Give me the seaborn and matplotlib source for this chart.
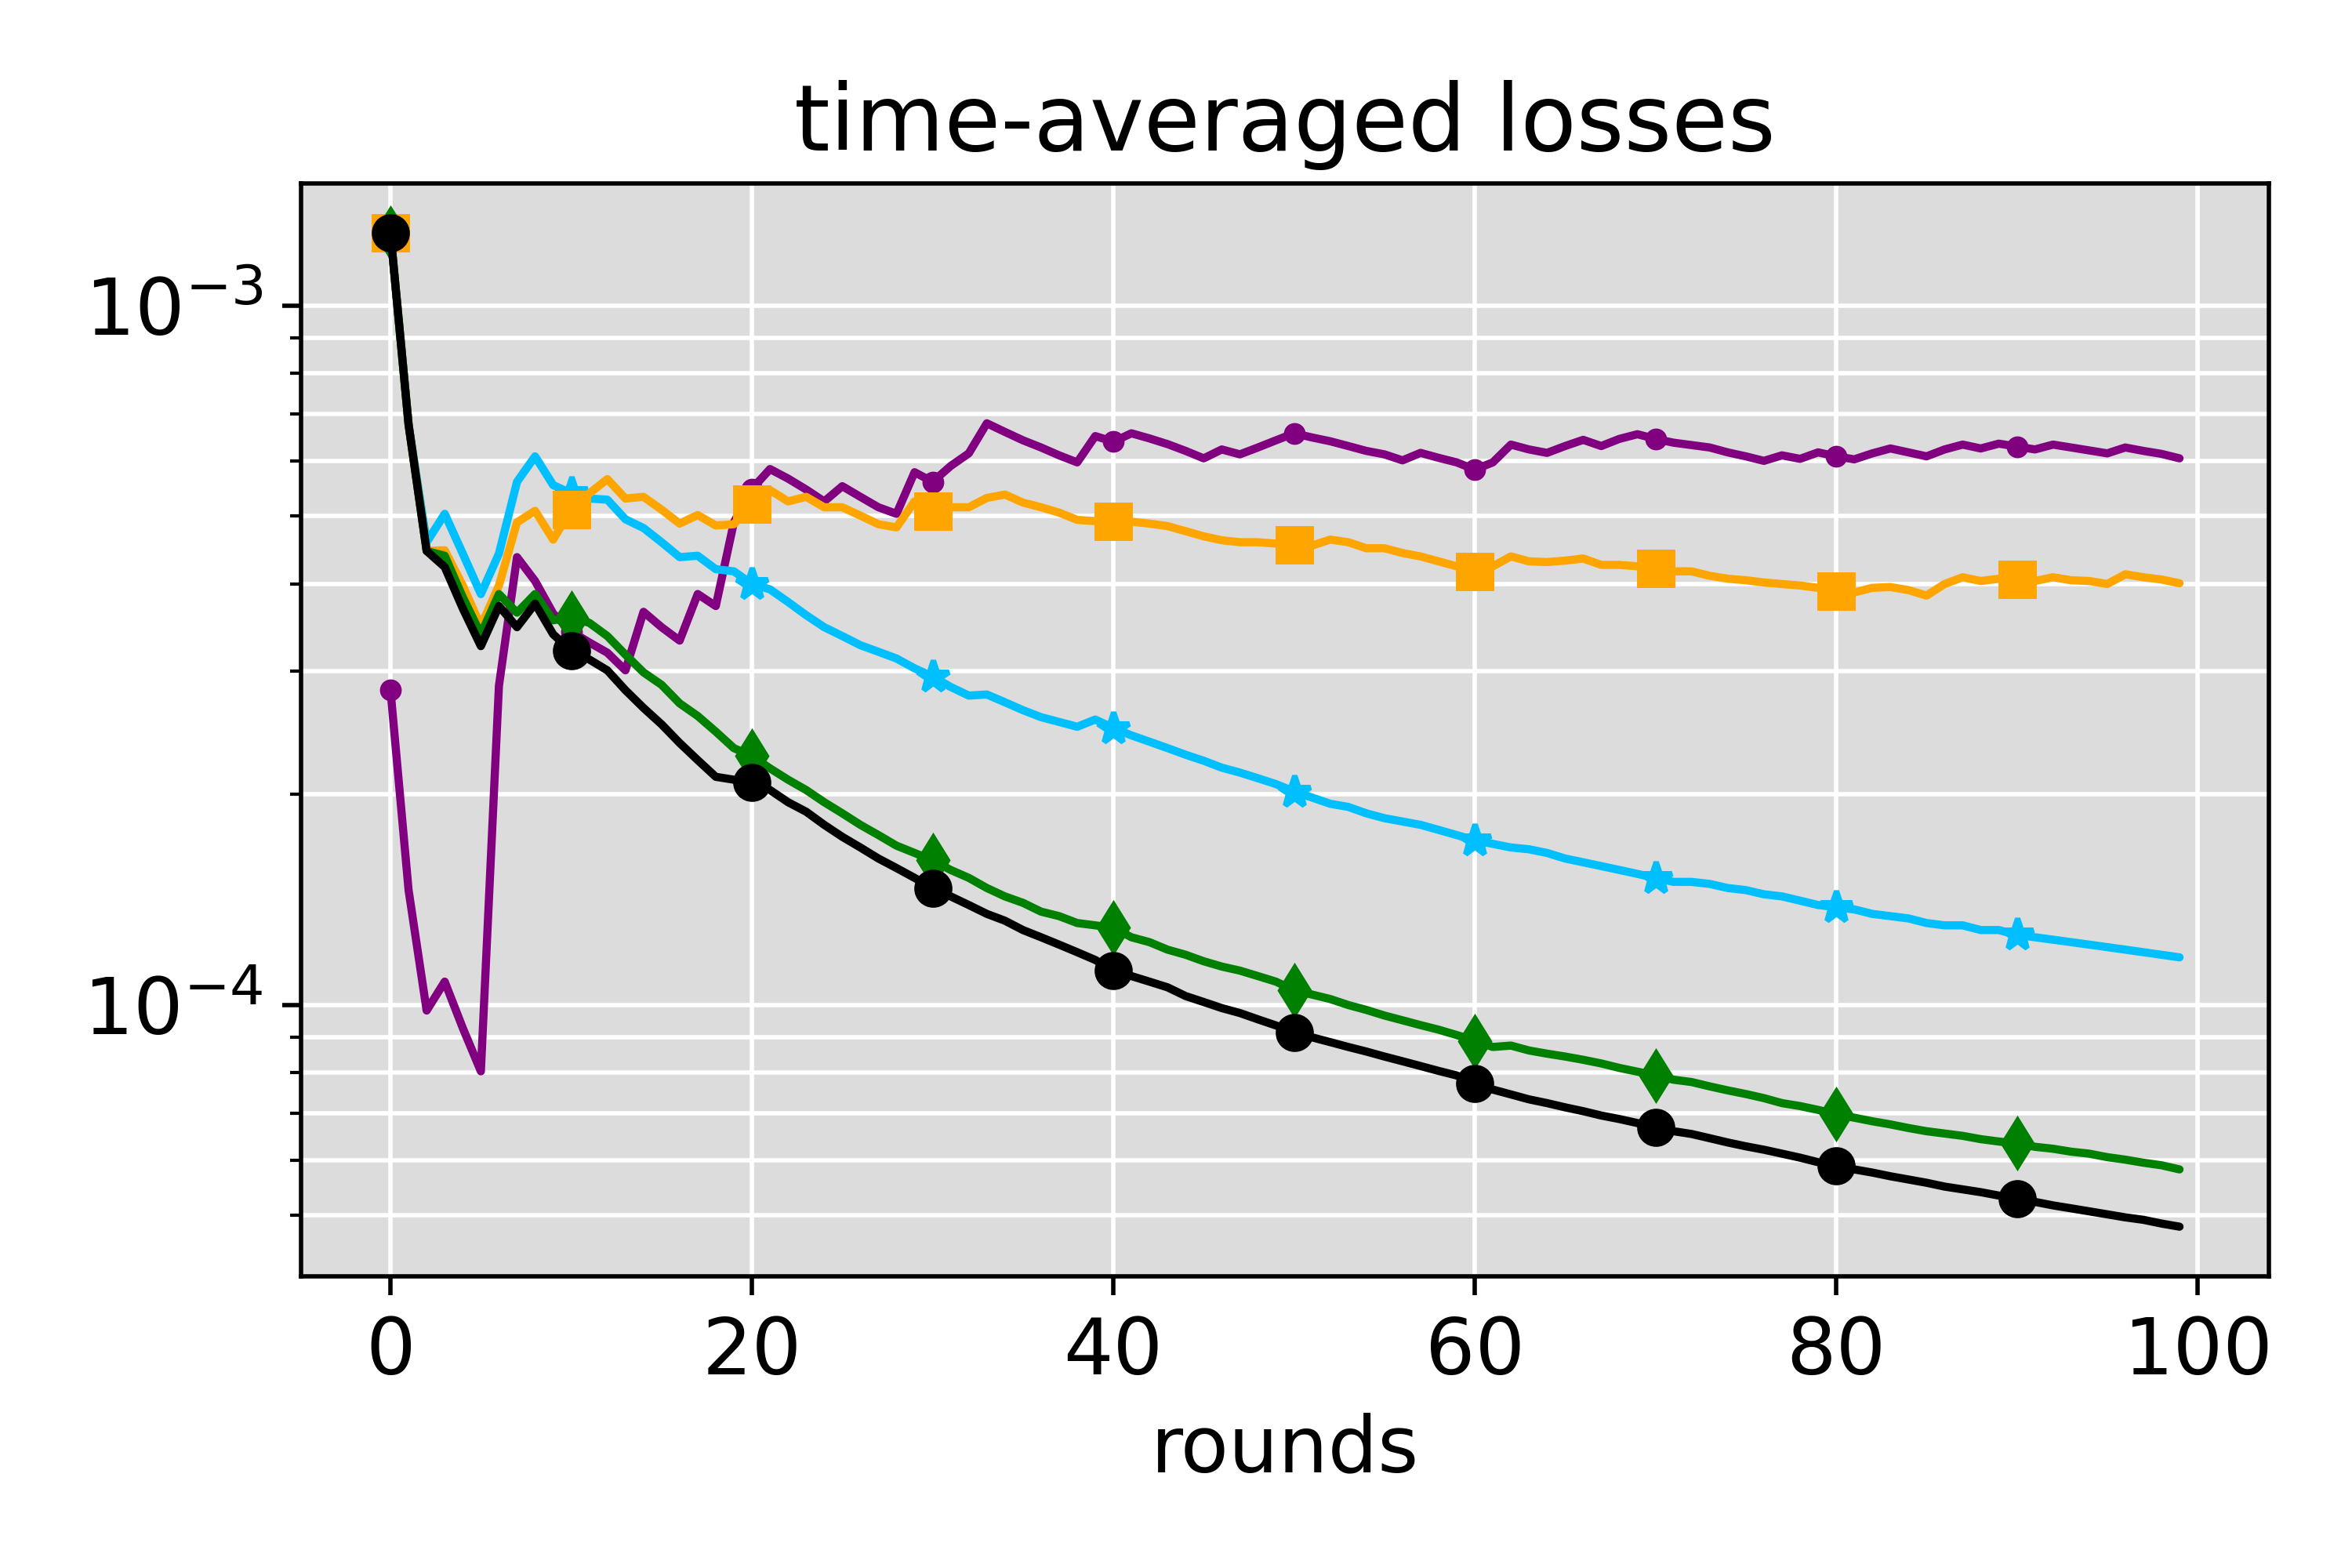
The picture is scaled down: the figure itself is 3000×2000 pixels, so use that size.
import numpy as np
import matplotlib
matplotlib.use("Agg")
import matplotlib.pyplot as plt
from matplotlib.ticker import NullFormatter
import seaborn as sns

# values (log scale), one per round
rounds = np.arange(100)

loss_purple = [
    2.82e-4, 1.46e-4, 9.82e-5, 1.08e-4, 9.27e-5, 8.04e-5, 2.86e-4, 4.37e-4, 4.04e-4, 3.63e-4,
    3.42e-4, 3.30e-4, 3.19e-4, 3.01e-4, 3.65e-4, 3.47e-4, 3.32e-4, 3.87e-4, 3.72e-4, 4.90e-4,
    5.47e-4, 5.84e-4, 5.66e-4, 5.46e-4, 5.25e-4, 5.52e-4, 5.33e-4, 5.15e-4, 5.04e-4, 5.78e-4,
    5.60e-4, 5.90e-4, 6.15e-4, 6.79e-4, 6.60e-4, 6.42e-4, 6.27e-4, 6.11e-4, 5.97e-4, 6.51e-4,
    6.39e-4, 6.57e-4, 6.46e-4, 6.34e-4, 6.20e-4, 6.05e-4, 6.23e-4, 6.13e-4, 6.27e-4, 6.42e-4,
    6.57e-4, 6.48e-4, 6.40e-4, 6.30e-4, 6.20e-4, 6.13e-4, 6.01e-4, 6.16e-4, 6.06e-4, 5.97e-4,
    5.83e-4, 5.97e-4, 6.33e-4, 6.23e-4, 6.16e-4, 6.30e-4, 6.43e-4, 6.30e-4, 6.45e-4, 6.55e-4,
    6.45e-4, 6.37e-4, 6.32e-4, 6.27e-4, 6.17e-4, 6.09e-4, 6.00e-4, 6.11e-4, 6.04e-4, 6.17e-4,
    6.09e-4, 6.03e-4, 6.15e-4, 6.25e-4, 6.17e-4, 6.09e-4, 6.23e-4, 6.33e-4, 6.25e-4, 6.35e-4,
    6.29e-4, 6.23e-4, 6.33e-4, 6.27e-4, 6.21e-4, 6.15e-4, 6.27e-4, 6.20e-4, 6.14e-4, 6.05e-4,
]

loss_blue = [
    1.27e-3, 6.76e-4, 4.59e-4, 5.04e-4, 4.42e-4, 3.87e-4, 4.42e-4, 5.60e-4, 6.09e-4, 5.54e-4,
    5.39e-4, 5.30e-4, 5.28e-4, 4.95e-4, 4.81e-4, 4.59e-4, 4.37e-4, 4.39e-4, 4.20e-4, 4.17e-4,
    4.00e-4, 3.93e-4, 3.77e-4, 3.61e-4, 3.47e-4, 3.37e-4, 3.27e-4, 3.20e-4, 3.13e-4, 3.03e-4,
    2.95e-4, 2.85e-4, 2.77e-4, 2.78e-4, 2.71e-4, 2.64e-4, 2.58e-4, 2.54e-4, 2.50e-4, 2.56e-4,
    2.49e-4, 2.43e-4, 2.38e-4, 2.33e-4, 2.28e-4, 2.235e-4, 2.185e-4, 2.15e-4, 2.11e-4, 2.07e-4,
    2.02e-4, 1.98e-4, 1.94e-4, 1.92e-4, 1.88e-4, 1.85e-4, 1.83e-4, 1.81e-4, 1.78e-4, 1.75e-4,
    1.72e-4, 1.70e-4, 1.68e-4, 1.67e-4, 1.65e-4, 1.62e-4, 1.60e-4, 1.58e-4, 1.56e-4, 1.54e-4,
    1.52e-4, 1.50e-4, 1.50e-4, 1.49e-4, 1.47e-4, 1.46e-4, 1.44e-4, 1.43e-4, 1.41e-4, 1.39e-4,
    1.38e-4, 1.37e-4, 1.35e-4, 1.34e-4, 1.33e-4, 1.31e-4, 1.30e-4, 1.30e-4, 1.28e-4, 1.28e-4,
    1.26e-4, 1.25e-4, 1.24e-4, 1.23e-4, 1.22e-4, 1.21e-4, 1.20e-4, 1.19e-4, 1.18e-4, 1.17e-4,
]

loss_orange = [
    1.27e-3, 6.76e-4, 4.46e-4, 4.47e-4, 3.98e-4, 3.48e-4, 3.98e-4, 4.90e-4, 5.09e-4, 4.63e-4,
    5.11e-4, 5.39e-4, 5.65e-4, 5.30e-4, 5.33e-4, 5.11e-4, 4.88e-4, 5.02e-4, 4.85e-4, 4.87e-4,
    5.20e-4, 5.45e-4, 5.25e-4, 5.33e-4, 5.15e-4, 5.15e-4, 5.01e-4, 4.87e-4, 4.82e-4, 5.25e-4,
    5.08e-4, 5.15e-4, 5.15e-4, 5.31e-4, 5.37e-4, 5.23e-4, 5.15e-4, 5.06e-4, 4.94e-4, 4.92e-4,
    4.92e-4, 4.91e-4, 4.88e-4, 4.84e-4, 4.76e-4, 4.68e-4, 4.62e-4, 4.59e-4, 4.59e-4, 4.57e-4,
    4.55e-4, 4.54e-4, 4.63e-4, 4.59e-4, 4.50e-4, 4.50e-4, 4.43e-4, 4.38e-4, 4.31e-4, 4.24e-4,
    4.17e-4, 4.24e-4, 4.38e-4, 4.31e-4, 4.30e-4, 4.32e-4, 4.35e-4, 4.26e-4, 4.26e-4, 4.24e-4,
    4.21e-4, 4.17e-4, 4.17e-4, 4.11e-4, 4.07e-4, 4.05e-4, 4.02e-4, 4.00e-4, 3.98e-4, 3.95e-4,
    3.91e-4, 3.89e-4, 3.95e-4, 3.96e-4, 3.92e-4, 3.85e-4, 4.00e-4, 4.09e-4, 4.04e-4, 4.07e-4,
    4.06e-4, 4.04e-4, 4.09e-4, 4.05e-4, 4.04e-4, 4.00e-4, 4.13e-4, 4.09e-4, 4.06e-4, 4.01e-4,
]

loss_green = [
    1.27e-3, 6.76e-4, 4.46e-4, 4.39e-4, 3.83e-4, 3.39e-4, 3.87e-4, 3.64e-4, 3.87e-4, 3.55e-4,
    3.58e-4, 3.52e-4, 3.37e-4, 3.17e-4, 2.99e-4, 2.87e-4, 2.70e-4, 2.59e-4, 2.46e-4, 2.33e-4,
    2.27e-4, 2.18e-4, 2.10e-4, 2.03e-4, 1.95e-4, 1.88e-4, 1.81e-4, 1.75e-4, 1.69e-4, 1.65e-4,
    1.61e-4, 1.56e-4, 1.52e-4, 1.47e-4, 1.43e-4, 1.40e-4, 1.36e-4, 1.34e-4, 1.31e-4, 1.30e-4,
    1.29e-4, 1.25e-4, 1.23e-4, 1.20e-4, 1.18e-4, 1.155e-4, 1.135e-4, 1.12e-4, 1.10e-4, 1.08e-4,
    1.05e-4, 1.035e-4, 1.02e-4, 1.00e-4, 9.84e-5, 9.66e-5, 9.51e-5, 9.36e-5, 9.22e-5, 9.06e-5,
    8.89e-5, 8.71e-5, 8.75e-5, 8.61e-5, 8.52e-5, 8.44e-5, 8.35e-5, 8.25e-5, 8.13e-5, 8.03e-5,
    7.93e-5, 7.82e-5, 7.76e-5, 7.65e-5, 7.55e-5, 7.46e-5, 7.36e-5, 7.24e-5, 7.17e-5, 7.08e-5,
    6.98e-5, 6.90e-5, 6.82e-5, 6.75e-5, 6.67e-5, 6.60e-5, 6.55e-5, 6.50e-5, 6.43e-5, 6.38e-5,
    6.34e-5, 6.27e-5, 6.23e-5, 6.17e-5, 6.13e-5, 6.06e-5, 6.01e-5, 5.95e-5, 5.90e-5, 5.82e-5,
]

loss_black = [
    1.27e-3, 6.76e-4, 4.46e-4, 4.23e-4, 3.69e-4, 3.26e-4, 3.72e-4, 3.47e-4, 3.75e-4, 3.39e-4,
    3.21e-4, 3.12e-4, 3.01e-4, 2.82e-4, 2.66e-4, 2.52e-4, 2.37e-4, 2.24e-4, 2.12e-4, 2.10e-4,
    2.08e-4, 2.03e-4, 1.95e-4, 1.89e-4, 1.81e-4, 1.74e-4, 1.68e-4, 1.62e-4, 1.57e-4, 1.52e-4,
    1.47e-4, 1.43e-4, 1.39e-4, 1.35e-4, 1.32e-4, 1.28e-4, 1.25e-4, 1.22e-4, 1.19e-4, 1.16e-4,
    1.12e-4, 1.10e-4, 1.08e-4, 1.06e-4, 1.03e-4, 1.01e-4, 9.90e-5, 9.74e-5, 9.54e-5, 9.35e-5,
    9.13e-5, 8.99e-5, 8.85e-5, 8.71e-5, 8.58e-5, 8.44e-5, 8.31e-5, 8.18e-5, 8.05e-5, 7.93e-5,
    7.72e-5, 7.57e-5, 7.45e-5, 7.33e-5, 7.24e-5, 7.14e-5, 7.05e-5, 6.95e-5, 6.87e-5, 6.78e-5,
    6.68e-5, 6.60e-5, 6.54e-5, 6.45e-5, 6.36e-5, 6.28e-5, 6.21e-5, 6.13e-5, 6.05e-5, 5.96e-5,
    5.89e-5, 5.82e-5, 5.76e-5, 5.69e-5, 5.63e-5, 5.57e-5, 5.50e-5, 5.45e-5, 5.40e-5, 5.34e-5,
    5.28e-5, 5.23e-5, 5.17e-5, 5.12e-5, 5.07e-5, 5.02e-5, 4.97e-5, 4.93e-5, 4.87e-5, 4.82e-5,
]

series = [
    (loss_purple, "purple", "."),
    (loss_blue, "deepskyblue", "*"),
    (loss_orange, "orange", "s"),
    (loss_green, "green", "d"),
    (loss_black, "black", "o"),
]

sns.set_style("ticks", rc={
    "axes.facecolor": "#dcdcdc",
    "axes.edgecolor": "black",
    "axes.linewidth": 0.8,
    "axes.axisbelow": True,
    "grid.color": "white",
    "grid.linewidth": 0.8,
    "text.color": "black",
    "axes.labelcolor": "black",
    "xtick.color": "black",
    "ytick.color": "black",
})
plt.rcParams["font.family"] = ["DejaVu Sans"]

fig, ax = plt.subplots(figsize=(6, 4), dpi=500)
fig.subplots_adjust(left=0.128, right=0.9647, bottom=0.186, top=0.883)

for vals, color, marker in series:
    sns.lineplot(x=rounds, y=vals, ax=ax, color=color, marker=marker,
                 markevery=10, markersize=6, markeredgecolor=color,
                 markeredgewidth=1.0, linewidth=1.5)

ax.set_yscale("log")
ax.yaxis.set_minor_formatter(NullFormatter())

ax.grid(True, which="major", color="white", linewidth=0.8)
ax.grid(True, which="minor", axis="y", color="white", linewidth=0.8)

ax.tick_params(which="major", length=3.5, width=0.8, labelsize=14.4)
ax.tick_params(which="minor", length=2, width=0.6)

ax.set_title("time-averaged losses", fontsize=16.8)
ax.set_xlabel("rounds", fontsize=14.4)
ax.set_ylabel("")

fig.savefig("out.png", dpi=500)
